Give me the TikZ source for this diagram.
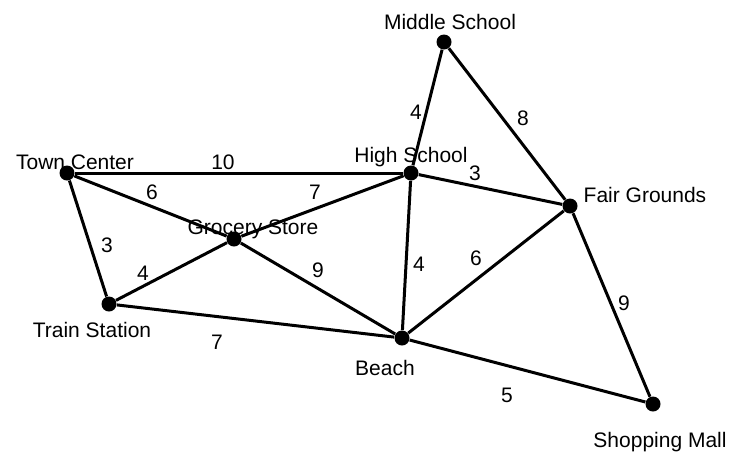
\documentclass[tikz,border=0pt]{standalone}
\usepackage{fontspec}
\setmainfont{Liberation Sans}
\usepackage{tikz}
\usetikzlibrary{positioning}

\begin{document}
\begin{tikzpicture}[
        x=0.5pt, y=-0.5pt,
        place/.style={circle, fill=black, inner sep=0pt, minimum size=7.5pt},
        placename/.style={anchor=base, inner sep=0pt,
                          font=\fontsize{10.5}{12.6}\selectfont},
        weight/.style={anchor=base, inner sep=0pt,
                       font=\fontsize{10.5}{12.6}\selectfont},
        road/.style={draw, line width=1.5pt}
    ]
    \useasboundingbox (0,0) rectangle (744,451);

    %% PLACES
    \node[place] (ms)    at (444,42)  {};
    \node[place] (hs)    at (411,173) {};
    \node[place] (fg)    at (570,206) {};
    \node[place] (beach) at (402,338) {};
    \node[place] (sm)    at (653,404) {};
    \node[place] (tc)    at (67,173)  {};
    \node[place] (gs)    at (234,239) {};
    \node[place] (ts)    at (109,304) {};

    %% ROADS
    \draw[road] (tc) -- (hs);
    \draw[road] (tc) -- (gs);
    \draw[road] (gs) -- (hs);
    \draw[road] (tc) -- (ts);
    \draw[road] (ts) -- (gs);
    \draw[road] (gs) -- (beach);
    \draw[road] (ts) -- (beach);
    \draw[road] (ms) -- (hs);
    \draw[road] (ms) -- (fg);
    \draw[road] (hs) -- (fg);
    \draw[road] (hs) -- (beach);
    \draw[road] (fg) -- (beach);
    \draw[road] (fg) -- (sm);
    \draw[road] (beach) -- (sm);

    %% NAMES
    \node[placename] (ms-name)    at (450,29)  {Middle School};
    \node[placename] (hs-name)    at (411,162) {High School};
    \node[placename] (fg-name)    at (645,202) {Fair Grounds};
    \node[placename] (beach-name) at (385,375) {Beach};
    \node[placename] (sm-name)    at (660,447) {Shopping Mall};
    \node[placename] (tc-name)    at (75,169)  {Town Center};
    \node[placename] (gs-name)    at (253,234) {Grocery Store};
    \node[placename] (ts-name)    at (92,337)  {Train Station};

    %% WEIGHTS
    \node[weight] (w-tc-hs)    at (223,169) {10};
    \node[weight] (w-tc-gs)    at (152,199) {6};
    \node[weight] (w-gs-hs)    at (315,199) {7};
    \node[weight] (w-tc-ts)    at (107,252) {3};
    \node[weight] (w-ts-gs)    at (143,280) {4};
    \node[weight] (w-gs-beach) at (318,277) {9};
    \node[weight] (w-ts-beach) at (217,349) {7};
    \node[weight] (w-ms-hs)    at (416,119) {4};
    \node[weight] (w-ms-fg)    at (523,125) {8};
    \node[weight] (w-hs-fg)    at (475,180) {3};
    \node[weight] (w-hs-beach) at (419,271) {4};
    \node[weight] (w-fg-beach) at (476,265) {6};
    \node[weight] (w-fg-sm)    at (624,310) {9};
    \node[weight] (w-beach-sm) at (507,402) {5};

\end{tikzpicture}
\end{document}
